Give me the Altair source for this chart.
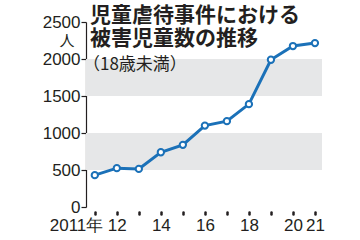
import altair as alt
import pandas as pd

years = [2011, 2012, 2013, 2014, 2015, 2016, 2017, 2018, 2019, 2020, 2021]
victims = [430, 525, 515, 740, 840, 1100, 1160, 1390, 1990, 2175, 2215]
band_lo = [500, 1500]
band_hi = [1000, 2000]
y_ticks = [0, 500, 1000, 1500, 2000, 2500]
title_lines = ["児童虐待事件における", "被害児童数の推移"]
subtitle = "（18歳未満）"
unit = "人"

W, H = 236, 185
BLUE = "#1b71b8"
INK = "#231f20"
NUM_FONT = "Liberation Sans"
JP_FONT = "Noto Sans CJK JP"

df = pd.DataFrame({"year": years, "n": victims})
bands = pd.DataFrame({"lo": band_lo, "hi": band_hi})

xscale = alt.Scale(domain=[2010.6, 2021.32], nice=False, zero=False)
yscale = alt.Scale(domain=[0, 2500], nice=False)

yaxis = alt.Axis(values=y_ticks, title=None, grid=False, orient="left",
                 format="d", labelOverlap=False, labelFlush=False,
                 tickSize=5, tickColor=INK, tickWidth=1.2,
                 domainColor=INK, domainWidth=1.2,
                 labelFont=NUM_FONT, labelFontSize=17, labelColor=INK,
                 labelPadding=1)

label_expr = ("datum.value == 2011 ? '2011年' : "
              "(indexof([2012,2014,2016,2018,2020,2021], datum.value) >= 0 ? "
              "substring(toString(datum.value), 2, 4) : '')")

xaxis = alt.Axis(values=years, title=None, grid=False, domain=False,
                 labelExpr=label_expr, tickSize=2, tickWidth=2.5,
                 tickCap="round", tickColor=INK, offset=5,
                 labelFont=NUM_FONT, labelFontSize=17, labelColor=INK,
                 labelPadding=3, labelFlush=False, labelOverlap=False,
                 labelAlign={"condition": {"test": "datum.value == 2011", "value": "right"}, "value": "center"},
                 labelOffset={"condition": {"test": "datum.value == 2011", "value": 8}, "value": 0})

band_layer = alt.Chart(bands).mark_rect(color="#e6e7e8").encode(
    x=alt.value(0), x2=alt.value(W),
    y=alt.Y("lo:Q", scale=yscale, axis=yaxis),
    y2="hi:Q",
)

base = alt.Chart(df).encode(
    x=alt.X("year:Q", scale=xscale, axis=xaxis),
    y=alt.Y("n:Q", scale=yscale, axis=yaxis),
)

line = base.mark_line(color=BLUE, strokeWidth=3)
pts = base.mark_point(shape="circle", filled=True, fill="white", stroke=BLUE,
                      strokeWidth=2, size=40, opacity=1)

t1 = alt.Chart(pd.DataFrame({"t": [title_lines[0]]})).mark_text(
    font=JP_FONT, fontSize=21, fontWeight="bold", color=INK, align="left",
    baseline="middle").encode(text="t:N", x=alt.value(4), y=alt.value(-6))
t2 = alt.Chart(pd.DataFrame({"t": [title_lines[1]]})).mark_text(
    font=JP_FONT, fontSize=21, fontWeight="bold", color=INK, align="left",
    baseline="middle").encode(text="t:N", x=alt.value(4), y=alt.value(17))
t3 = alt.Chart(pd.DataFrame({"t": [subtitle]})).mark_text(
    font=JP_FONT, fontSize=17, color=INK, align="left",
    baseline="middle").encode(text="t:N", x=alt.value(-3), y=alt.value(43))
tu = alt.Chart(pd.DataFrame({"t": [unit]})).mark_text(
    font=JP_FONT, fontSize=15, color=INK, align="center",
    baseline="middle").encode(text="t:N", x=alt.value(-19), y=alt.value(19))

chart = alt.layer(band_layer, line, pts, t1, t2, t3, tu).properties(
    width=W, height=H,
    autosize=alt.AutoSizeParams(type="none"),
    padding={"left": 86, "top": 22, "right": 38, "bottom": 33},
    background="white",
).configure_view(stroke=None)

chart.save("out.html", embed_options={"renderer": "svg", "actions": False})
